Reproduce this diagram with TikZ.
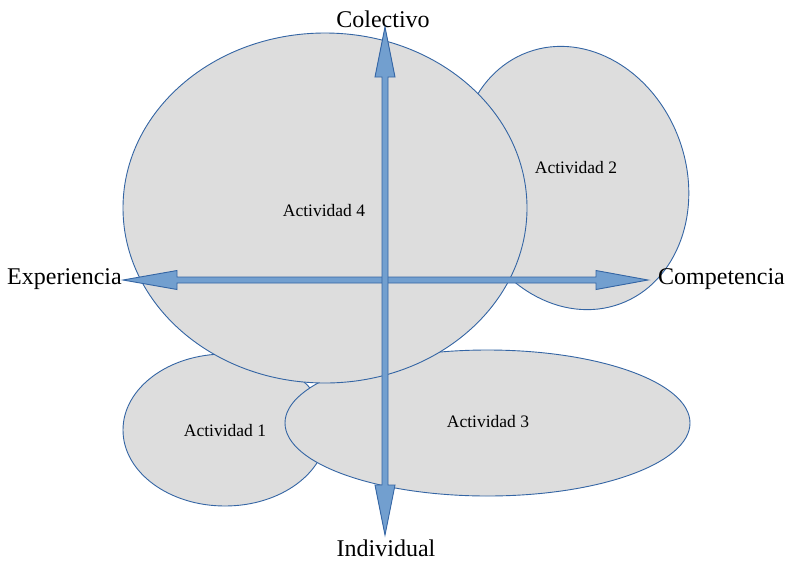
\documentclass[tikz,border=0pt]{standalone}
\usepackage{fontspec}
\setmainfont{Liberation Serif}
\usetikzlibrary{shapes.geometric,calc}
\definecolor{ellfill}{HTML}{DDDDDD}
\definecolor{ellline}{HTML}{3465A4}
\definecolor{axfill}{HTML}{729FCF}
\definecolor{axline}{HTML}{3465A4}
\begin{document}
\begin{tikzpicture}[x=1pt,y=-1pt,
  blob/.style={ellipse,draw=ellline,fill=ellfill,line width=0.9pt,inner sep=0pt},
  axis/.style={draw=axline,fill=axfill,line width=0.9pt,line join=miter},
  axlabel/.style={font=\fontsize{24}{28}\selectfont,inner sep=0pt},
  actlabel/.style={font=\fontsize{17.5}{20}\selectfont,inner sep=0pt}]
\useasboundingbox (0,0) rectangle (786,560);
% ellipses (back to front)
\node[blob,minimum width=224pt,minimum height=268pt,rotate=20] (a2) at (574,178) {};
\node[blob,minimum width=204pt,minimum height=152pt] (a1) at (225,430) {};
\node[blob,minimum width=405pt,minimum height=146pt] (a3) at (487.5,423) {};
\node[blob,minimum width=404pt,minimum height=350pt] (a4) at (325,208) {};
% activity labels
\node[actlabel] (l4) at (324,211) {Actividad 4};
\node[actlabel] (l2) at (576,168) {Actividad 2};
\node[actlabel] (l1) at (225,431) {Actividad 1};
\node[actlabel] (l3) at (488,422) {Actividad 3};
% axis labels
\node[axlabel,anchor=base] (col) at (383,27) {Colectivo};
\node[axlabel,anchor=base] (ind) at (386,556) {Individual};
\node[axlabel,anchor=base east] (exp) at (122,284) {Experiencia};
\node[axlabel,anchor=base west] (com) at (658,284) {Competencia};
% axis arrow tips
\coordinate (vt) at (385,27);
\coordinate (vb) at (385,535);
\coordinate (hl) at (123,280);
\coordinate (hr) at (648,280);
% horizontal double arrow
\draw[axis] (hl) -- ($(hl)+(54,-9.5)$) -- ($(hl)+(54,-3)$) -- ($(hr)+(-52,-3)$)
  -- ($(hr)+(-52,-9.5)$) -- (hr) -- ($(hr)+(-52,9.5)$) -- ($(hr)+(-52,3)$)
  -- ($(hl)+(54,3)$) -- ($(hl)+(54,9.5)$) -- cycle;
% vertical double arrow
\draw[axis] (vt) -- ($(vt)+(10,50)$) -- ($(vt)+(3,50)$) -- ($(vb)+(3,-50)$)
  -- ($(vb)+(10,-50)$) -- (vb) -- ($(vb)+(-10,-50)$) -- ($(vb)+(-3,-50)$)
  -- ($(vt)+(-3,50)$) -- ($(vt)+(-10,50)$) -- cycle;
\end{tikzpicture}
\end{document}
